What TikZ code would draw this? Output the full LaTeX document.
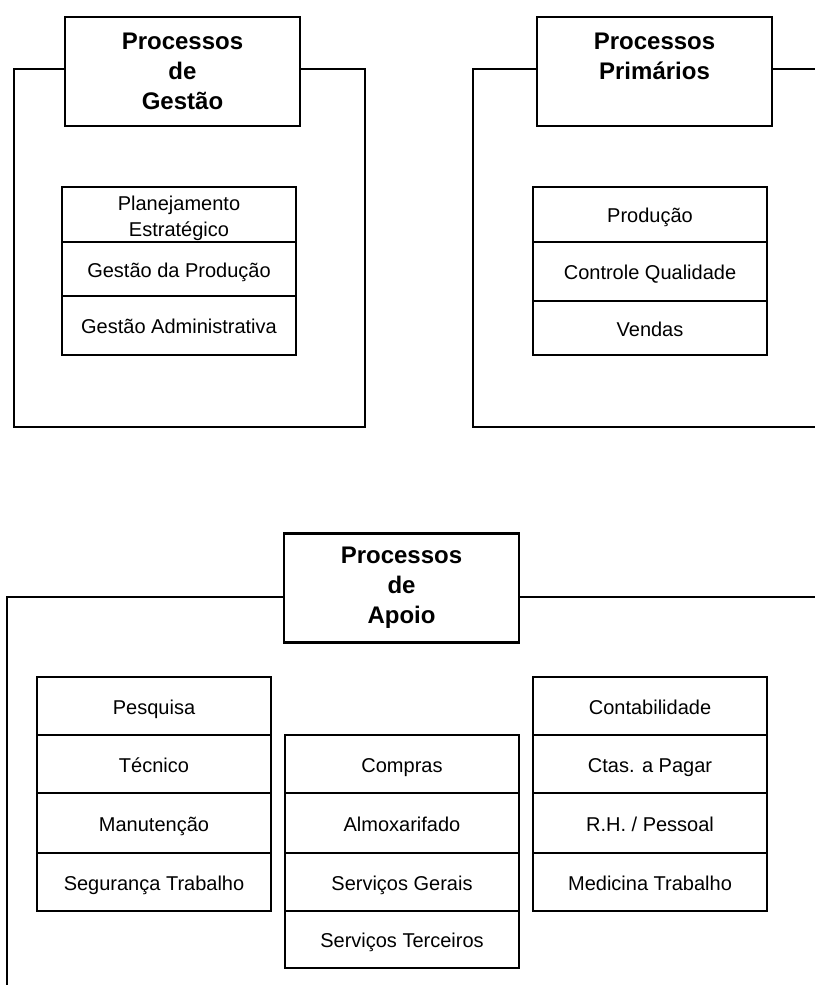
\documentclass[tikz,border=0pt]{standalone}
\usepackage{fontspec}
\setmainfont{Liberation Sans}
\begin{document}
\begin{tikzpicture}[x=1pt,y=-1pt,
  frame/.style={line width=2.8pt, line join=miter},
  titlebox/.style={draw, line width=2.8pt, minimum width=235pt, minimum height=109pt,
    inner sep=0pt, outer sep=0pt, align=center,
    font=\fontsize{24}{30}\selectfont\bfseries},
  cell/.style={draw, line width=2.8pt, minimum width=234pt, inner sep=0pt,
    outer sep=0pt, align=center, anchor=north, text height=16pt, text depth=0pt,
    font=\fontsize{20}{26}\selectfont},
]
\useasboundingbox[fill=white] (0,0) rectangle (814,985);

% group titles
\node[titlebox] (tg) at (182.5,71.5) {Processos\\de\\Gestão};
\node[titlebox] (tp) at (654.5,71.5) {Processos\\Primários\\\mbox{}};
\node[titlebox] (ta) at (401.5,588) {Processos\\de\\Apoio};

% frame corners
\coordinate (gbl) at (14,427);
\coordinate (gbr) at (365,427);
\coordinate (pbl) at (473,427);
\coordinate (pbr) at (820,427);
\coordinate (ptr) at (820,69);
\coordinate (abl) at (7,990);
\coordinate (atr) at (820,597);

% frames around each group
\draw[frame] ([yshift=2.5pt]tg.west) -| (gbl) -- (gbr) |- ([yshift=2.5pt]tg.east);
\draw[frame] ([yshift=2.5pt]tp.west) -| (pbl) -- (pbr);
\draw[frame] ([yshift=2.5pt]tp.east) -- (ptr);
\draw[frame] ([yshift=-9pt]ta.west) -| (abl);
\draw[frame] ([yshift=-9pt]ta.east) -- (atr);

% management processes
\node[cell, minimum height=55pt, text height=44.4pt] (g1) at (179,187) {Planejamento\\Estratégico};
\node[cell, minimum height=54pt] (g2) at (g1.south) {Gestão da Produção};
\node[cell, minimum height=59pt] (g3) at (g2.south) {Gestão Administrativa};

% primary processes
\node[cell, minimum height=55pt] (p1) at (650,187) {Produção};
\node[cell, minimum height=59pt] (p2) at (p1.south) {Controle Qualidade};
\node[cell, minimum height=54pt] (p3) at (p2.south) {Vendas};

% support processes, left column
\node[cell, minimum height=58pt] (l1) at (154,677) {Pesquisa};
\node[cell, minimum height=58pt] (l2) at (l1.south) {Técnico};
\node[cell, minimum height=60pt] (l3) at (l2.south) {Manutenção};
\node[cell, minimum height=58pt] (l4) at (l3.south) {Segurança Trabalho};

% support processes, middle column
\node[cell, minimum height=58pt] (m1) at (402,735) {Compras};
\node[cell, minimum height=60pt] (m2) at (m1.south) {Almoxarifado};
\node[cell, minimum height=58pt] (m3) at (m2.south) {Serviços Gerais};
\node[cell, minimum height=57pt] (m4) at (m3.south) {Serviços Terceiros};

% support processes, right column
\node[cell, minimum height=58pt] (r1) at (650,677) {Contabilidade};
\node[cell, minimum height=58pt] (r2) at (r1.south) {Ctas. a Pagar};
\node[cell, minimum height=60pt] (r3) at (r2.south) {R.H. / Pessoal};
\node[cell, minimum height=58pt] (r4) at (r3.south) {Medicina Trabalho};
\end{tikzpicture}
\end{document}
